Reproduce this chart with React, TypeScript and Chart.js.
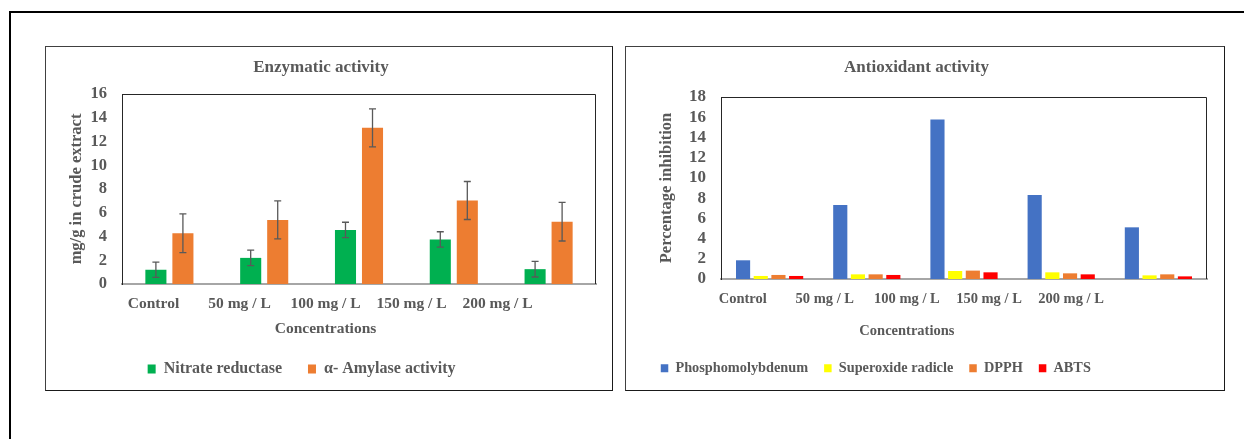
import React, { useEffect, useRef } from 'react';
import { Chart, registerables } from 'chart.js';

Chart.register(...registerables);

// ---------- data ----------
const categories = ['Control', '50 mg / L', '100 mg / L', '150 mg / L', '200 mg / L'];

const nitrateReductase = [1.2, 2.2, 4.55, 3.75, 1.25];
const nitrateReductaseErr = [0.65, 0.65, 0.65, 0.65, 0.66];
const amylaseActivity = [4.27, 5.4, 13.15, 7.03, 5.25];
const amylaseActivityErr = [1.63, 1.6, 1.6, 1.6, 1.63];

const phosphomolybdenum = [1.85, 7.32, 15.77, 8.31, 5.11];
const superoxideRadicle = [0.3, 0.46, 0.79, 0.66, 0.36];
const dpph = [0.4, 0.46, 0.83, 0.56, 0.46];
const abts = [0.3, 0.4, 0.66, 0.46, 0.26];

const enzymeTicks = { min: 0, max: 16, step: 2 };
const antioxTicks = { min: 0, max: 18, step: 2 };

// ---------- styles ----------
const FONT = "'Liberation Serif', 'Times New Roman', serif";
const TEXT = '#595959';
Chart.defaults.font.family = FONT;
Chart.defaults.color = TEXT;

const errorBarsPlugin = {
  id: 'errorBars',
  afterDatasetsDraw(chart: any, _args: any, opts: any) {
    const errs = opts && opts.errors;
    if (!errs) return;
    const ctx = chart.ctx;
    const y = chart.scales.y;
    chart.data.datasets.forEach((ds: any, i: number) => {
      const e = errs[i];
      if (!e) return;
      const meta = chart.getDatasetMeta(i);
      meta.data.forEach((bar: any, j: number) => {
        const v = ds.data[j];
        const yt = y.getPixelForValue(v + e[j]);
        const yb = y.getPixelForValue(v - e[j]);
        ctx.save();
        ctx.strokeStyle = '#595959';
        ctx.lineWidth = 1.3;
        ctx.beginPath();
        ctx.moveTo(bar.x, yt);
        ctx.lineTo(bar.x, yb);
        ctx.moveTo(bar.x - 3.5, yt);
        ctx.lineTo(bar.x + 3.5, yt);
        ctx.moveTo(bar.x - 3.5, yb);
        ctx.lineTo(bar.x + 3.5, yb);
        ctx.stroke();
        ctx.restore();
      });
    });
  },
};

const frameAndLayoutPlugin = {
  id: 'frameLayout',
  afterLayout(chart: any, _args: any, opts: any) {
    const xl = chart.scales.xl;
    if (xl && opts.labelSpan) {
      xl.left = opts.labelSpan[0];
      xl.right = opts.labelSpan[1];
      xl.width = xl.right - xl.left;
      xl.configure();
      xl._labelItems = null;
    }
    const lg = chart.legend;
    if (lg && opts.legendShift) {
      lg.left += opts.legendShift;
      lg.right += opts.legendShift;
    }
  },
  beforeDatasetsDraw(chart: any, _args: any, opts: any) {
    const { ctx, chartArea: a } = chart;
    ctx.save();
    ctx.strokeStyle = opts.frameColor || '#262626';
    ctx.lineWidth = 1;
    ctx.beginPath();
    ctx.moveTo(Math.round(a.left) + 0.5, Math.round(a.bottom));
    ctx.lineTo(Math.round(a.left) + 0.5, Math.round(a.top) + 0.5);
    ctx.lineTo(Math.round(a.right) - 0.5, Math.round(a.top) + 0.5);
    ctx.lineTo(Math.round(a.right) - 0.5, Math.round(a.bottom));
    ctx.stroke();
    ctx.restore();
  },
};

type PanelCfg = {
  w: number;
  h: number;
  area: { left: number; top: number; right: number; bottom: number };
  title: string;
  titleSize: number;
  titlePadTop: number;
  yTitle: string;
  yTitleSize: number;
  yTitlePad: number;
  yTickSize: number;
  ticks: { min: number; max: number; step: number };
  xTickSize: number;
  xTickPad: number;
  xTitleSize: number;
  xTitlePadBottom: number;
  xlHeight: number;
  labelSpan: [number, number];
  legendSize: number;
  legendPad: number;
  legendBox: [number, number];
  legendShift: number;
  padBottom: number;
  categoryPercentage: number;
  barPercentage: number;
  datasets: any[];
  errors?: any[];
};

function ChartPanel({ cfg, left, top }: { cfg: PanelCfg; left: number; top: number }) {
  const ref = useRef<HTMLCanvasElement>(null);
  useEffect(() => {
    const c = ref.current!;
    const titleLH = cfg.titleSize * 1.2;
    const chart = new Chart(c, {
      type: 'bar',
      data: {
        labels: categories,
        datasets: cfg.datasets.map((d) => ({
          ...d,
          borderWidth: 0,
          categoryPercentage: cfg.categoryPercentage,
          barPercentage: cfg.barPercentage,
        })),
      },
      plugins: [errorBarsPlugin, frameAndLayoutPlugin],
      options: {
        responsive: false,
        animation: false,
        devicePixelRatio: 1,
        layout: {
          padding: { left: 0, top: 0, right: cfg.w - cfg.area.right, bottom: cfg.padBottom },
        },
        scales: {
          x: {
            type: 'category',
            position: 'bottom',
            weight: 0,
            offset: true,
            ticks: { display: false },
            grid: { display: false, drawTicks: false },
            border: { display: true, color: '#A6A6A6', width: 2 },
            afterFit: (s: any) => {
              s.height = 0;
            },
          },
          xl: {
            type: 'category',
            position: 'bottom',
            weight: 1,
            labels: categories,
            offset: true,
            grid: { display: false, drawTicks: false },
            border: { display: false },
            ticks: {
              padding: cfg.xTickPad,
              color: TEXT,
              maxRotation: 0,
              autoSkip: false,
              font: { size: cfg.xTickSize, weight: 'bold' },
            },
            title: {
              display: true,
              text: 'Concentrations',
              color: TEXT,
              font: { size: cfg.xTitleSize, weight: 'bold' },
              padding: { top: 0, bottom: cfg.xTitlePadBottom },
            },
            afterFit: (s: any) => {
              s.height = cfg.xlHeight;
            },
          },
          y: {
            min: cfg.ticks.min,
            max: cfg.ticks.max,
            ticks: {
              stepSize: cfg.ticks.step,
              autoSkip: false,
              padding: 15,
              color: TEXT,
              font: { size: cfg.yTickSize, weight: 'bold', lineHeight: 1 },
            },
            grid: { display: false, drawTicks: false },
            border: { display: true, color: '#262626', width: 1 },
            title: {
              display: true,
              text: cfg.yTitle,
              color: TEXT,
              font: { size: cfg.yTitleSize, weight: 'bold' },
              padding: { top: cfg.yTitlePad, bottom: 0 },
            },
            afterFit: (s: any) => {
              s.width = cfg.area.left;
            },
          },
        },
        plugins: {
          title: {
            display: true,
            text: cfg.title,
            color: TEXT,
            font: { size: cfg.titleSize, weight: 'bold' },
            padding: { top: cfg.titlePadTop, bottom: cfg.area.top - cfg.titlePadTop - titleLH },
          },
          legend: {
            display: true,
            position: 'bottom',
            labels: {
              color: TEXT,
              boxWidth: cfg.legendBox[0],
              boxHeight: cfg.legendBox[1],
              padding: cfg.legendPad,
              font: { size: cfg.legendSize, weight: 'bold' },
            },
          },
          tooltip: { enabled: false },
          errorBars: { errors: cfg.errors },
          frameLayout: { labelSpan: cfg.labelSpan, legendShift: cfg.legendShift },
        } as any,
      } as any,
    });
    return () => chart.destroy();
  }, [cfg]);
  return (
    <canvas
      ref={ref}
      width={cfg.w}
      height={cfg.h}
      style={{ position: 'absolute', left, top, width: cfg.w, height: cfg.h }}
    />
  );
}

const enzymeCfg: PanelCfg = {
  w: 566,
  h: 343,
  area: { left: 76, top: 47, right: 550, bottom: 237 },
  title: 'Enzymatic activity',
  titleSize: 17,
  titlePadTop: 10.8,
  yTitle: 'mg/g in crude extract',
  yTitleSize: 16.5,
  yTitlePad: 20.8,
  yTickSize: 16.5,
  ticks: enzymeTicks,
  xTickSize: 15.5,
  xTickPad: 10.7,
  xTitleSize: 15.5,
  xTitlePadBottom: -3.3,
  xlHeight: 51,
  labelSpan: [64.5, 494.5],
  legendSize: 16,
  legendPad: 26,
  legendBox: [8, 9],
  legendShift: -19.4,
  padBottom: 3,
  categoryPercentage: 0.57,
  barPercentage: 0.78,
  datasets: [
    { label: 'Nitrate reductase', data: nitrateReductase, backgroundColor: '#00B050' },
    { label: 'α- Amylase activity', data: amylaseActivity, backgroundColor: '#ED7D31' },
  ],
  errors: [nitrateReductaseErr, amylaseActivityErr],
};

const antioxCfg: PanelCfg = {
  w: 597,
  h: 343,
  area: { left: 95, top: 50, right: 581, bottom: 232 },
  title: 'Antioxidant activity',
  titleSize: 17,
  titlePadTop: 10.5,
  yTitle: 'Percentage inhibition',
  yTitleSize: 16.5,
  yTitlePad: 30.8,
  yTickSize: 17,
  ticks: antioxTicks,
  xTickSize: 14.5,
  xTickPad: 11.3,
  xTitleSize: 14.5,
  xTitlePadBottom: 4.8,
  xlHeight: 66.2,
  labelSpan: [75.7, 486.1],
  legendSize: 14.3,
  legendPad: 16,
  legendBox: [7.5, 8],
  legendShift: -40.7,
  padBottom: 4.5,
  categoryPercentage: 0.728,
  barPercentage: 0.8,
  datasets: [
    { label: 'Phosphomolybdenum', data: phosphomolybdenum, backgroundColor: '#4472C4' },
    { label: 'Superoxide radicle', data: superoxideRadicle, backgroundColor: '#FFFF00' },
    { label: 'DPPH', data: dpph, backgroundColor: '#ED7D31' },
    { label: 'ABTS', data: abts, backgroundColor: '#FF0000' },
  ],
};

export default function App() {
  return (
    <div
      style={{
        position: 'absolute',
        left: 0,
        top: 0,
        width: 1244,
        height: 439,
        overflow: 'hidden',
        background: '#fff',
      }}
    >
      <div
        style={{
          position: 'absolute',
          left: 9,
          top: 11,
          width: 1400,
          height: 600,
          borderTop: '2px solid #000',
          borderLeft: '2px solid #000',
        }}
      />
      <div
        style={{
          position: 'absolute',
          left: 45,
          top: 46,
          width: 568,
          height: 345,
          boxSizing: 'border-box',
          border: '1px solid #404040',
          borderRightColor: '#1a1a1a',
          borderBottomColor: '#1a1a1a',
        }}
      />
      <div
        style={{
          position: 'absolute',
          left: 625,
          top: 46,
          width: 600,
          height: 345,
          boxSizing: 'border-box',
          border: '1px solid #404040',
          borderRightColor: '#1a1a1a',
          borderBottomColor: '#1a1a1a',
        }}
      />
      <ChartPanel cfg={enzymeCfg} left={46} top={47} />
      <ChartPanel cfg={antioxCfg} left={626} top={47} />
    </div>
  );
}
